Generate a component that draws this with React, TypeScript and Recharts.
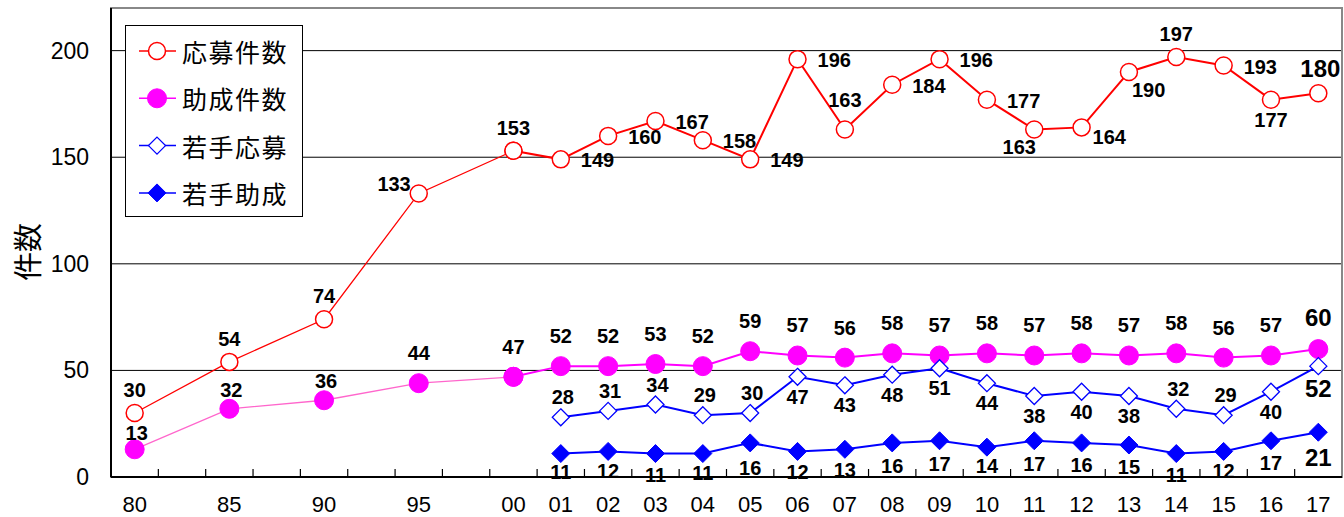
import React from 'react';
import { LineChart, Line, XAxis, YAxis, CartesianGrid, Legend, ReferenceArea } from 'recharts';

// ---------- data ----------
const categories = ['80', '', '85', '', '90', '', '95', '', '00', '01', '02', '03', '04', '05', '06', '07', '08', '09', '10', '11', '12', '13', '14', '15', '16', '17'];
const applications = [30, null, 54, null, 74, null, 133, null, 153, 149, 160, 167, 158, 149, 196, 163, 184, 196, 177, 163, 164, 190, 197, 193, 177, 180];
const grants = [13, null, 32, null, 36, null, 44, null, 47, 52, 52, 53, 52, 59, 57, 56, 58, 57, 58, 57, 58, 57, 58, 56, 57, 60];
const youngApplications = [null, null, null, null, null, null, null, null, null, 28, 31, 34, 29, 30, 47, 43, 48, 51, 44, 38, 40, 38, 32, 29, 40, 52];
const youngGrants = [null, null, null, null, null, null, null, null, null, 11, 12, 11, 11, 16, 12, 13, 16, 17, 14, 17, 16, 15, 11, 12, 17, 21];
const yTicks = [0, 50, 100, 150, 200];
const seriesNames = ['応募件数', '助成件数', '若手応募', '若手助成'];

// label placement keywords (style only)
const applicationLabelPos = ['t', '', 't', '', 't', '', 'tl', '', 't', 'r', 'r', 'r', 'r', 'r', 'r', 't30', 'r', 'r', 'r', 'bl', 'br', 'brd', 't', 'r', 'b20', 't25'];
const grantLabelPos = ['t16', '', 't19', '', 't19', '', 't30', '', 't30', 't30', 't30', 't30', 't30', 't30', 't30', 't30', 't30', 't30', 't30', 't30', 't30', 't30', 't30', 't30', 't30', 't32'];
const youngApplicationLabelPos = ['', '', '', '', '', '', '', '', '', 't20', 't20', 't20', 't20', 't20', 'b20', 'b20', 'b20', 'b20', 'b20', 'b20', 'b20', 'b20', 't20', 't20', 'b20', 'b22'];
const youngGrantLabelPos = ['', '', '', '', '', '', '', '', '', 'b18', 'b20', 'b21', 'b19', 'b25', 'b21', 'b21', 'b23', 'b23', 'b19', 'b23', 'b22', 'b22', 'b21', 'b20', 'b22', 'b25'];

const OFFSETS: Record<string, [number, number, string]> = {
  t: [0, -23, 'middle'],
  t16: [2, -16, 'middle'],
  t19: [2, -19, 'middle'],
  t20: [2, -20, 'middle'],
  t25: [2, -25, 'middle'],
  t30: [0, -30, 'middle'],
  t32: [0, -32, 'middle'],
  b18: [0, 18, 'middle'],
  b19: [0, 19, 'middle'],
  b20: [0, 20, 'middle'],
  b21: [0, 21, 'middle'],
  b22: [0, 22, 'middle'],
  b23: [0, 23, 'middle'],
  b25: [0, 25, 'middle'],
  r: [20, 1, 'start'],
  tl: [-8, -9, 'end'],
  bl: [-15, 17, 'middle'],
  br: [11, 10, 'start'],
  brd: [3, 18, 'start'],
};

// ---------- layout ----------
const W = 1344;
const H = 517;
const MARGIN = { top: 8, right: 2, left: 0, bottom: 0 };
const Y_AXIS_W = 111;
const X_AXIS_H = 40;
const BAND = (W - MARGIN.left - MARGIN.right - Y_AXIS_W) / categories.length;

const RED = '#FF0000';
const PINK = '#FF66CC';
const MAGENTA = '#FF00FF';
const BLUE = '#0000FF';
const NUM_FONT = '"Liberation Sans", Arial, sans-serif';
const JP_FONT = '"Noto Sans CJK JP", "Noto Sans", sans-serif';

const splitIndex = categories.indexOf('00');

const data = categories.map((c, i) => ({
  id: i,
  apply: applications[i],
  applyEarly: i <= splitIndex ? applications[i] : null,
  applyLate: i >= splitIndex ? applications[i] : null,
  grant: grants[i],
  grantEarly: i <= splitIndex ? grants[i] : null,
  grantLate: i >= splitIndex ? grants[i] : null,
  youngApply: youngApplications[i],
  youngGrant: youngGrants[i],
}));

// ---------- markers ----------
const OpenCircle = ({ cx, cy, r = 8.5 }: any) => (
  <circle cx={cx} cy={cy} r={r} fill="#fff" stroke={RED} strokeWidth={1.5} />
);
const FilledCircle = ({ cx, cy, r = 9.5 }: any) => <circle cx={cx} cy={cy} r={r} fill={MAGENTA} stroke={MAGENTA} strokeWidth={1} />;
const OpenDiamond = ({ cx, cy, s = 8.5 }: any) => (
  <path d={`M${cx},${cy - s}L${cx + s},${cy}L${cx},${cy + s}L${cx - s},${cy}Z`} fill="#fff" stroke={BLUE} strokeWidth={1.3} />
);
const FilledDiamond = ({ cx, cy, s = 9 }: any) => (
  <path d={`M${cx},${cy - s}L${cx + s},${cy}L${cx},${cy + s}L${cx - s},${cy}Z`} fill={BLUE} stroke={BLUE} strokeWidth={1} />
);

const makeDot = (Marker: any) => (props: any) => {
  const { cx, cy, index, value } = props;
  if (value == null || cy == null || cx == null || Number.isNaN(cy)) return <g key={`d-${index}`} />;
  return (
    <g key={`d-${index}`}>
      <Marker cx={cx} cy={cy} />
    </g>
  );
};

const makeLabel = (placements: string[]) => (props: any) => {
  const { x, y, value, index } = props;
  if (value == null || x == null || y == null) return <g key={`l-${index}`} />;
  const key = placements[index];
  if (!key) return <g key={`l-${index}`} />;
  const [dx, dy, anchor] = OFFSETS[key];
  const big = index === categories.length - 1;
  return (
    <text
      key={`l-${index}`}
      x={x + dx}
      y={y + dy}
      textAnchor={anchor as any}
      dominantBaseline="central"
      fontSize={big ? 24 : 20}
      fontWeight="bold"
      fontFamily={NUM_FONT}
      fill="#000"
    >
      {value}
    </text>
  );
};

const XTick = (props: any) => {
  const { x, y, payload } = props;
  const label = categories[payload.value];
  const bx = x - BAND / 2;
  return (
    <g>
      <line x1={bx} x2={bx} y1={y - 8} y2={y} stroke="#000" strokeWidth={1.2} />
      {label ? (
        <text x={x} y={y + 27} textAnchor="middle" dominantBaseline="central" fontSize={22} fontFamily={NUM_FONT} fill="#000">
          {label}
        </text>
      ) : null}
    </g>
  );
};

const YTick = (props: any) => {
  const { x, y, payload } = props;
  return (
    <text x={x} y={y} textAnchor="end" dominantBaseline="central" fontSize={23} fontFamily={NUM_FONT} fill="#000">
      {payload.value}
    </text>
  );
};

const YLabel = () => (
  <text
    x={26}
    y={252}
    transform="rotate(-90 26 252)"
    textAnchor="middle"
    dominantBaseline="central"
    fontSize={29}
    fontFamily={JP_FONT}
    fill="#000"
  >
    件数
  </text>
);

const legendMarkers = [
  { color: RED, Marker: OpenCircle },
  { color: MAGENTA, Marker: FilledCircle },
  { color: BLUE, Marker: OpenDiamond },
  { color: BLUE, Marker: FilledDiamond },
];

const LegendBox = () => (
  <svg width={178} height={192} style={{ display: 'block' }}>
    <rect x={0.5} y={0.5} width={177} height={191} fill="#fff" stroke="#000" strokeWidth={1} />
    {seriesNames.map((name, i) => {
      const cy = 26 + i * 47.3;
      const { color, Marker } = legendMarkers[i];
      return (
        <g key={name}>
          <line x1={14} x2={51} y1={cy} y2={cy} stroke={color} strokeWidth={1.5} />
          <Marker cx={32} cy={cy} />
          <text x={57} y={cy} dominantBaseline="central" fontSize={25} letterSpacing={1.5} fontFamily={JP_FONT} fill="#000">
            {name}
          </text>
        </g>
      );
    })}
  </svg>
);

export default function App() {
  return (
    <div style={{ position: 'absolute', left: 0, top: 0, width: W, height: H, background: '#fff' }}>
      <LineChart width={W} height={H} data={data} margin={MARGIN}>
        <CartesianGrid horizontal vertical={false} stroke="#000" strokeWidth={1} />
        <ReferenceArea y1={0} y2={220} fill="none" stroke="#888" strokeWidth={2} />
        <XAxis
          dataKey="id"
          type="category"
          scale="band"
          interval={0}
          height={X_AXIS_H}
          tickLine={false}
          tickSize={0}
          tickMargin={0}
          axisLine={{ stroke: '#000', strokeWidth: 2 }}
          tick={<XTick />}
        />
        <YAxis
          type="number"
          domain={[0, 220]}
          ticks={yTicks}
          width={Y_AXIS_W}
          tickLine={false}
          tickSize={0}
          tickMargin={22}
          axisLine={{ stroke: '#000', strokeWidth: 2 }}
          tick={<YTick />}
          label={<YLabel />}
        />
        <Legend
          layout="vertical"
          align="center"
          verticalAlign="middle"
          wrapperStyle={{ position: 'absolute', left: 125, top: 25, width: 178, height: 192 }}
          content={() => <LegendBox />}
        />
        <Line dataKey="applyEarly" type="linear" stroke={RED} strokeWidth={1.3} connectNulls dot={makeDot(OpenCircle)} activeDot={false} isAnimationActive={false} legendType="none" />
        <Line dataKey="applyLate" type="linear" stroke={RED} strokeWidth={2} connectNulls dot={makeDot(OpenCircle)} activeDot={false} isAnimationActive={false} legendType="none" />
        <Line dataKey="grantEarly" type="linear" stroke={PINK} strokeWidth={1.3} connectNulls dot={makeDot(FilledCircle)} activeDot={false} isAnimationActive={false} legendType="none" />
        <Line dataKey="grantLate" type="linear" stroke={MAGENTA} strokeWidth={2} connectNulls dot={makeDot(FilledCircle)} activeDot={false} isAnimationActive={false} legendType="none" />
        <Line dataKey="youngApply" type="linear" stroke={BLUE} strokeWidth={2} connectNulls dot={makeDot(OpenDiamond)} activeDot={false} isAnimationActive={false} legendType="none" />
        <Line dataKey="youngGrant" type="linear" stroke={BLUE} strokeWidth={2} connectNulls dot={makeDot(FilledDiamond)} activeDot={false} isAnimationActive={false} legendType="none" />
        <Line dataKey="apply" stroke="none" dot={false} activeDot={false} isAnimationActive={false} legendType="none" label={makeLabel(applicationLabelPos)} />
        <Line dataKey="grant" stroke="none" dot={false} activeDot={false} isAnimationActive={false} legendType="none" label={makeLabel(grantLabelPos)} />
        <Line dataKey="youngApply" stroke="none" dot={false} activeDot={false} isAnimationActive={false} legendType="none" label={makeLabel(youngApplicationLabelPos)} />
        <Line dataKey="youngGrant" stroke="none" dot={false} activeDot={false} isAnimationActive={false} legendType="none" label={makeLabel(youngGrantLabelPos)} />
      </LineChart>
    </div>
  );
}
